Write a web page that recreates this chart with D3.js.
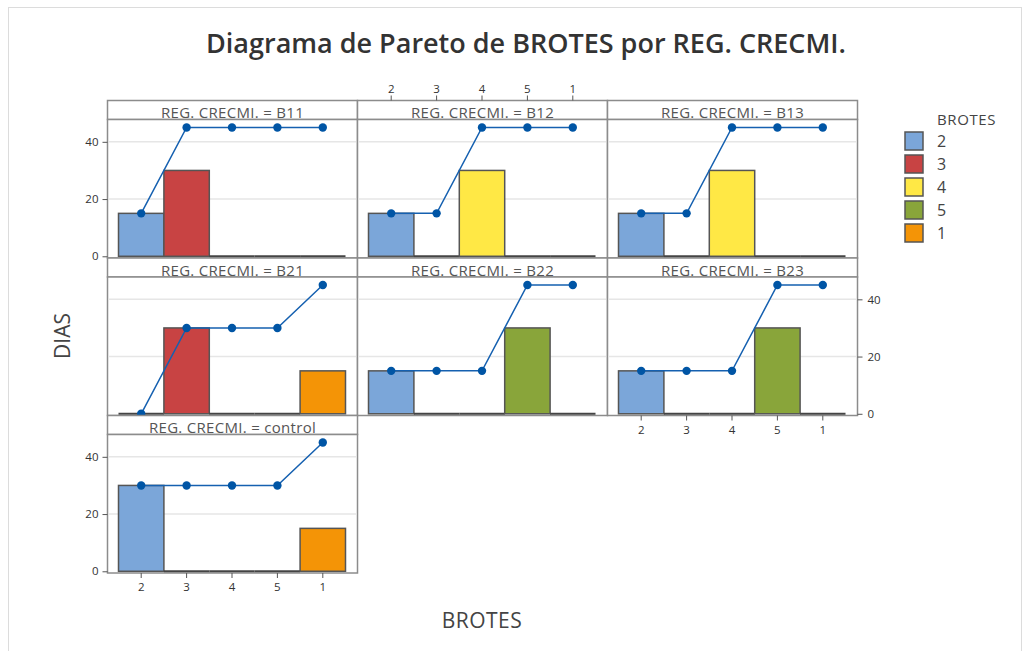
<!DOCTYPE html>
<html>
<head>
<meta charset="utf-8">
<script src="https://cdn.jsdelivr.net/npm/d3@7"></script>
<style>
  body { margin: 0; background: #fff; }
  svg { font-family: "Open Sans", "Noto Sans", sans-serif; }
</style>
</head>
<body>
<svg id="chart" width="1030" height="651"></svg>
<script>
// categories of BROTES, in Pareto order
var categories = ["2", "3", "4", "5", "1"];
var catColors = ["#7ba6d9", "#c84343", "#ffe845", "#89a53a", "#f49406"];

// panels (REG. CRECMI.)
var groups = ["B11", "B12", "B13", "B21", "B22", "B23", "control"];

// DIAS per category, one array per panel
var diasB11 = [15, 30, 0, 0, 0];
var diasB12 = [15, 0, 30, 0, 0];
var diasB13 = [15, 0, 30, 0, 0];
var diasB21 = [0, 30, 0, 0, 15];
var diasB22 = [15, 0, 0, 30, 0];
var diasB23 = [15, 0, 0, 30, 0];
var diasControl = [30, 0, 0, 0, 15];

var yTicks = [0, 20, 40];

var groupValues = [diasB11, diasB12, diasB13, diasB21, diasB22, diasB23, diasControl];

var svg = d3.select("#chart");

// outer frame
svg.append("rect")
    .attr("x", 8.5).attr("y", 7.5)
    .attr("width", 1013).attr("height", 660)
    .attr("fill", "none")
    .attr("stroke", "#dcdcdc");

svg.append("text")
    .attr("x", 526).attr("y", 53)
    .attr("text-anchor", "middle")
    .style("font-size", "27px")
    .style("font-weight", "600")
    .style("fill", "#333")
    .text("Diagrama de Pareto de BROTES por REG. CRECMI.");

var colX = [107.5, 357.5, 607.5];
var colW = 250;
var rowY = [100.5, 258, 415.5];
var stripH = 19;
var plotH = 138.5;

var x = d3.scaleBand().domain(categories).range([11, colW - 12]).padding(0);
var y = d3.scaleLinear().domain([-0.6, 47.8]).range([plotH, 0]);

function drawPanel(idx)
{
    var col = idx % 3;
    var row = Math.floor(idx / 3);
    var values = groupValues[idx];
    var cum = Array.from(d3.cumsum(values));

    var g = svg.append("g")
        .attr("transform", "translate(" + colX[col] + "," + rowY[row] + ")");

    // strip
    g.append("rect")
        .attr("x", 0).attr("y", 0)
        .attr("width", colW).attr("height", stripH)
        .attr("fill", "#fff")
        .attr("stroke", "#8c8c8c").attr("stroke-width", 1.5);

    g.append("text")
        .attr("x", colW / 2).attr("y", stripH - 1.5)
        .attr("text-anchor", "middle")
        .style("font-size", "15px")
        .style("letter-spacing", "0.3px")
        .style("fill", "#555")
        .text("REG. CRECMI. = " + groups[idx]);

    var p = g.append("g").attr("transform", "translate(0," + stripH + ")");

    p.append("rect")
        .attr("width", colW).attr("height", plotH)
        .attr("fill", "#fff")
        .attr("stroke", "#8c8c8c").attr("stroke-width", 1.5);

    p.selectAll(".grid")
        .data(yTicks.filter(function(t) { return t > 0; }))
        .enter().append("line")
        .attr("x1", 1).attr("x2", colW - 1)
        .attr("y1", function(d) { return y(d); })
        .attr("y2", function(d) { return y(d); })
        .attr("stroke", "#e6e6e6").attr("stroke-width", 1.5);

    categories.forEach(function(c, i) {
        if (values[i] > 0)
        {
            p.append("rect")
                .attr("x", x(c)).attr("y", y(values[i]))
                .attr("width", x.bandwidth())
                .attr("height", y(0) - y(values[i]))
                .attr("fill", catColors[i])
                .attr("stroke", "#555").attr("stroke-width", 1.5);
        }
        else
        {
            p.append("line")
                .attr("x1", x(c)).attr("x2", x(c) + x.bandwidth())
                .attr("y1", y(0)).attr("y2", y(0))
                .attr("stroke", "#444").attr("stroke-width", 2);
        }
    });

    var line = d3.line()
        .x(function(d, i) { return x(categories[i]) + x.bandwidth() / 2; })
        .y(function(d) { return y(d); });

    p.append("path")
        .datum(cum)
        .attr("d", line)
        .attr("fill", "none")
        .attr("stroke", "#1560b0").attr("stroke-width", 1.5);

    p.selectAll(".pt")
        .data(cum)
        .enter().append("circle")
        .attr("cx", function(d, i) { return x(categories[i]) + x.bandwidth() / 2; })
        .attr("cy", function(d) { return y(d); })
        .attr("r", 4.2)
        .attr("fill", "#0055a5");

    return { g: g, p: p };
}

function styleAxis(sel)
{
    sel.select(".domain").remove();
    sel.selectAll(".tick line").attr("stroke", "#555");
    sel.selectAll(".tick text").style("font-size", "11.5px").style("fill", "#333")
        .style("font-family", "'Open Sans', sans-serif");
}

var panels = groups.map(function(gname, i) { return drawPanel(i); });

// left axes: rows 1 and 3 of column 1
[0, 6].forEach(function(i) {
    panels[i].p.append("g")
        .call(d3.axisLeft(y).tickValues(yTicks).tickSize(5).tickPadding(4))
        .call(styleAxis);
});

// right axis: column 3, row 2
panels[5].p.append("g")
    .attr("transform", "translate(" + colW + ",0)")
    .call(d3.axisRight(y).tickValues(yTicks).tickSize(5).tickPadding(5))
    .call(styleAxis);

// top axis: column 2, row 1
panels[1].g.append("g")
    .call(d3.axisTop(x).tickSize(5).tickPadding(3))
    .call(styleAxis);

// bottom axes: column 1 row 3, column 3 row 2
[6, 5].forEach(function(i) {
    panels[i].p.append("g")
        .attr("transform", "translate(0," + plotH + ")")
        .call(d3.axisBottom(x).tickSize(5).tickPadding(5))
        .call(styleAxis);
});

// axis titles
svg.append("text")
    .attr("transform", "translate(70,336) rotate(-90)")
    .attr("text-anchor", "middle")
    .style("font-size", "21px")
    .style("fill", "#444")
    .text("DIAS");

svg.append("text")
    .attr("x", 482).attr("y", 628)
    .attr("text-anchor", "middle")
    .style("font-size", "21px")
    .style("letter-spacing", "0.5px")
    .style("fill", "#444")
    .text("BROTES");

// legend
var legend = svg.append("g").attr("transform", "translate(905,0)");
legend.append("text")
    .attr("x", 32).attr("y", 125)
    .style("font-size", "15px")
    .style("letter-spacing", "0.6px")
    .style("fill", "#444")
    .text("BROTES");

var items = legend.selectAll(".item")
    .data(categories)
    .enter().append("g")
    .attr("transform", function(d, i) { return "translate(0," + (132 + i * 23) + ")"; });

items.append("rect")
    .attr("width", 18).attr("height", 18)
    .attr("fill", function(d, i) { return catColors[i]; })
    .attr("stroke", "#555").attr("stroke-width", 1.5);

items.append("text")
    .attr("x", 32).attr("y", 15)
    .style("font-size", "16px")
    .style("fill", "#444")
    .text(function(d) { return d; });
</script>
</body>
</html>
